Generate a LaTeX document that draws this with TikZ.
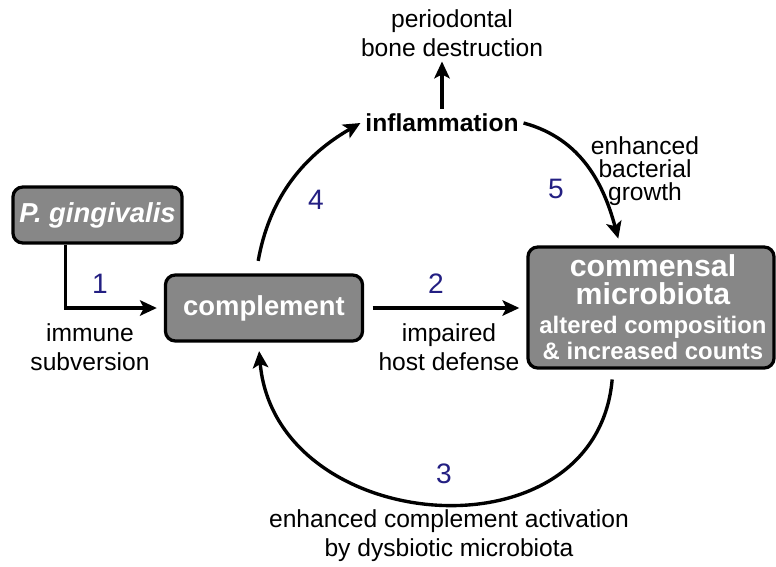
\documentclass[tikz,border=0pt]{standalone}
\usepackage{xcolor}
\usepackage{tikz}
\usepackage{fontspec}
\setmainfont{Liberation Sans}
\usetikzlibrary{positioning,calc,arrows.meta}
\definecolor{boxgray}{RGB}{135,135,135}
\definecolor{numblue}{RGB}{35,31,130}

\begin{document}
\begin{tikzpicture}[
    x=0.025cm, y=0.025cm,
    box/.style={rectangle, draw, line width=2.3pt, rounded corners=7pt, fill=boxgray, text=white, align=center, inner sep=2pt, font=\bfseries\fontsize{19.5}{23}\selectfont},
    boxtext/.style={text=white, align=center, inner sep=0pt},
    lbl/.style={align=center, font=\fontsize{17.5}{20.6}\selectfont},
    num/.style={text=numblue, font=\fontsize{20}{24}\selectfont},
    arr/.style={-{Stealth[length=12pt,width=11pt,inset=2.8pt]}, line width=2.4pt}
]
    \useasboundingbox (0,0) rectangle (776,-566);

    % boxes
    \node[box, minimum width=4.225cm, minimum height=1.4cm] (ging) at (97.5,-215) {\itshape P. gingivalis};
    \node[box, minimum width=4.925cm, minimum height=1.65cm] (comp) at (264,-308) {complement};
    \node[box, minimum width=6.15cm, minimum height=3.025cm] (comm) at (651,-307.5) {};
    \node[boxtext, font=\bfseries\fontsize{21.5}{20}\selectfont] (commt) at (653,-280) {commensal\\microbiota};
    \node[boxtext, font=\bfseries\fontsize{17}{18.5}\selectfont] (comms) at (653,-338) {altered composition\\\& increased counts};

    \node[lbl, font=\bfseries\fontsize{17.5}{20.6}\selectfont] (infl) at (442,-123) {inflammation};
    \node[lbl] (bone) at (452,-33) {periodontal\\bone destruction};

    % labels
    \node[lbl] (subv) at (90,-347) {immune\\subversion};
    \node[lbl] (defn) at (449,-347) {impaired\\host defense};
    \node[lbl] (actv) at (449,-536) {enhanced complement activation\\by dysbiotic microbiota};
    \node[lbl, font=\fontsize{17.5}{16.4}\selectfont] (grow) at (645,-171) {enhanced\\bacterial\\growth};

    \foreach \n/\x/\y in {1/100/284, 2/436/284, 3/444/474, 4/316/200, 5/556/189} {
        \node[num] (n\n) at (\x,-\y) {\n};
    }

    % arrows
    \draw[arr] (infl.north) -- (infl.north |- bone.south);
    \draw[arr, shorten >=5pt] ([xshift=-22.8pt]ging.south) |- (comp.west);
    \draw[arr, shorten <=6pt, shorten >=5pt] (comp.east) -- (comp.east -| comm.west);
    \draw[arr, shorten <=7pt, shorten >=6pt] ([xshift=-27pt]comm.south) to[out=-95, in=-85, looseness=1.4] ([xshift=-4pt]comp.south);
    \draw[arr, shorten <=9pt] ([xshift=-5.7pt]comp.north) to[out=80, in=210] (infl.west);
    \draw[arr, shorten >=5pt] (infl.east) to[out=-15, in=105] ([xshift=-22pt]comm.north);

\end{tikzpicture}
\end{document}
